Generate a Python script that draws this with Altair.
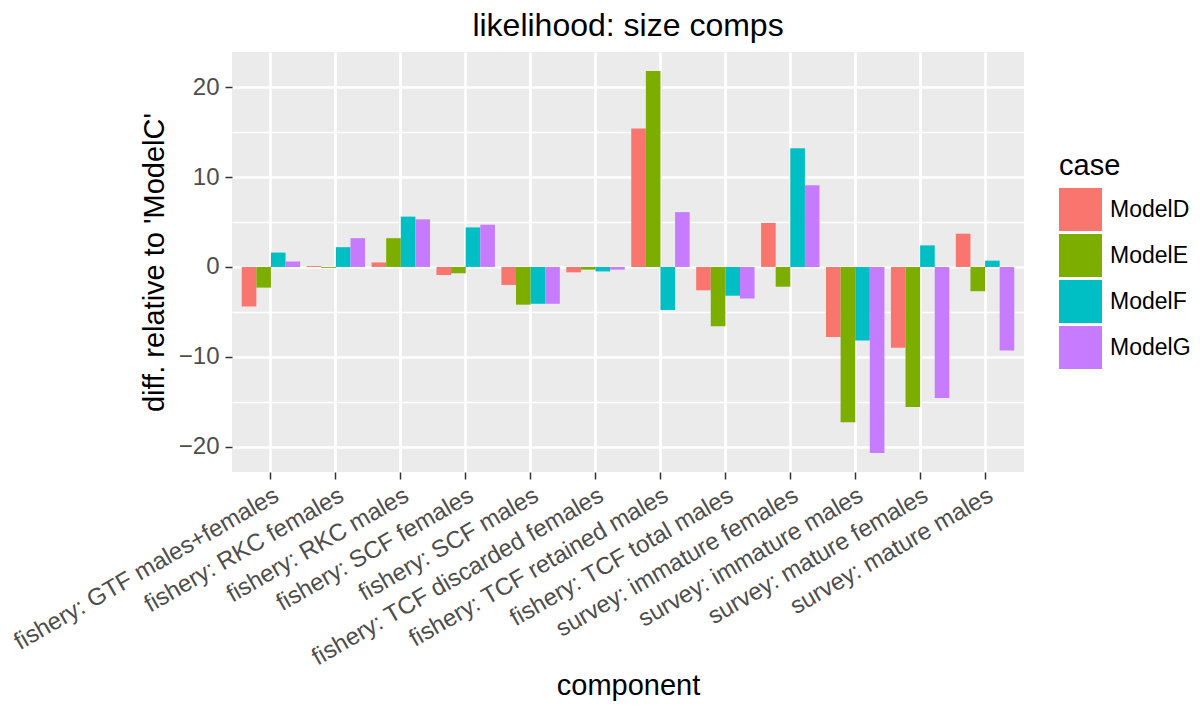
import altair as alt
import pandas as pd

components = [
    "fishery: GTF males+females",
    "fishery: RKC females",
    "fishery: RKC males",
    "fishery: SCF females",
    "fishery: SCF males",
    "fishery: TCF discarded females",
    "fishery: TCF retained males",
    "fishery: TCF total males",
    "survey: immature females",
    "survey: immature males",
    "survey: mature females",
    "survey: mature males",
]
cases = ["ModelD", "ModelE", "ModelF", "ModelG"]
colors = ["#F8766D", "#7CAE00", "#00BFC4", "#C77CFF"]

modelD = [-4.4, 0.1, 0.5, -0.9, -2.0, -0.6, 15.4, -2.6, 4.9, -7.8, -9.0, 3.7]
modelE = [-2.3, -0.1, 3.2, -0.7, -4.2, -0.3, 21.8, -6.6, -2.2, -17.3, -15.6, -2.7]
modelF = [1.6, 2.2, 5.6, 4.4, -4.1, -0.5, -4.8, -3.2, 13.2, -8.2, 2.4, 0.7]
modelG = [0.6, 3.2, 5.3, 4.7, -4.1, -0.3, 6.1, -3.5, 9.1, -20.7, -14.6, -9.3]

rows = []
for case, vals in zip(cases, [modelD, modelE, modelF, modelG]):
    for comp, v in zip(components, vals):
        rows.append({"component": comp, "case": case, "value": v})
df = pd.DataFrame(rows)

allv = modelD + modelE + modelF + modelG
lo, hi = min(allv), max(allv)
pad = 0.05 * (hi - lo)
ydomain = [lo - pad, hi + pad]

FONT = "Liberation Sans"
tick_vals = [-20, -15, -10, -5, 0, 5, 10, 15, 20]

chart = alt.Chart(df).mark_bar().encode(
    x=alt.X(
        "component:N",
        sort=components,
        scale=alt.Scale(paddingInner=0.1, paddingOuter=0.15),
        axis=alt.Axis(
            title="component",
            labelAngle=-30,
            labelAlign="right",
            labelBaseline="top",
            labelFontSize=24,
            labelColor="#4D4D4D",
            labelPadding=4,
            labelOverlap=False,
            labelLimit=0,
            tickSize=7,
            tickWidth=1.5,
            tickColor="#333333",
            bandPosition=0.5,
            grid=True,
            gridColor="white",
            gridWidth=2.7,
            domain=False,
            titleFontSize=29,
            titleFontWeight="normal",
            titleColor="black",
            titlePadding=2,
        ),
    ),
    xOffset=alt.XOffset("case:N", sort=cases, scale=alt.Scale(paddingInner=0, paddingOuter=0)),
    y=alt.Y(
        "value:Q",
        scale=alt.Scale(domain=ydomain, nice=False, zero=False),
        axis=alt.Axis(
            title="diff. relative to 'ModelC'",
            values=tick_vals,
            labelExpr="datum.value % 10 === 0 ? (datum.value < 0 ? '\u2212' + (-datum.value) : '' + datum.value) : ''",
            labelFontSize=24,
            labelColor="#4D4D4D",
            labelPadding=6,
            labelOverlap=False,
            tickSize=7,
            tickWidth=1.5,
            tickColor="#333333",
            tickOpacity={"condition": {"test": "datum.value % 10 !== 0", "value": 0}, "value": 1},
            grid=True,
            gridColor="white",
            gridWidth={"condition": {"test": "datum.value % 10 !== 0", "value": 1.35}, "value": 2.7},
            domain=False,
            titleFontSize=29,
            titleFontWeight="normal",
            titleColor="black",
            titlePadding=9,
        ),
    ),
    color=alt.Color(
        "case:N",
        sort=cases,
        scale=alt.Scale(domain=cases, range=colors),
        legend=alt.Legend(
            title="case",
            orient="none",
            legendX=827,
            legendY=100,
            symbolType="square",
            symbolSize=1849,
            symbolStrokeWidth=0,
            symbolOpacity=1,
            rowPadding=3,
            labelFontSize=23,
            labelColor="black",
            labelOffset=8,
            titleFontSize=29,
            titleFontWeight="normal",
            titleColor="black",
            titlePadding=7,
        ),
    ),
).properties(
    width=792,
    height=420,
    title=alt.TitleParams(
        "likelihood: size comps",
        fontSize=32,
        fontWeight="normal",
        color="black",
        anchor="middle",
        frame="group",
        offset=9,
    ),
    autosize=alt.AutoSizeParams(type="none"),
    padding={"left": 224, "top": 44, "right": 166, "bottom": 229},
).configure(
    font=FONT,
    background="white",
).configure_view(
    fill="#EBEBEB",
    stroke=None,
)

chart.save("out.html", embed_options={"renderer": "svg", "actions": False})
